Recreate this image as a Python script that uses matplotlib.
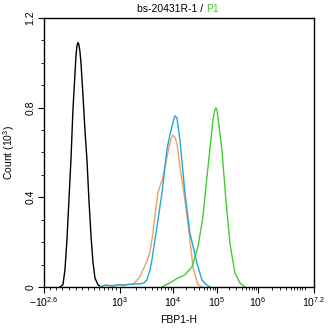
import numpy as np
import matplotlib
matplotlib.use('Agg')
import matplotlib.pyplot as plt

plt.rcParams['font.family'] = ['Liberation Sans', 'DejaVu Sans']
plt.rcParams['mathtext.fontset'] = 'custom'
plt.rcParams['mathtext.rm'] = 'Liberation Sans'
plt.rcParams['mathtext.it'] = 'Liberation Sans'

# x in display channels (0 = -10^2.6, 270 = 10^7.2), y = count in 10^3
black_x = [16, 19, 21, 23, 25, 27, 29, 31, 32, 33, 34, 35, 36, 37, 39, 41, 43, 45, 47, 49, 51, 54, 57]
black_y = [0.0, 0.01, 0.076, 0.21, 0.388, 0.567, 0.79, 0.95, 1.03, 1.075, 1.09, 1.08, 1.05, 1.0, 0.857, 0.701, 0.567, 0.388, 0.232, 0.112, 0.040, 0.01, 0.0]

orange_x = [55, 62, 70, 76, 80, 86, 89, 93, 96, 99, 103, 106, 109, 111, 114, 119, 124, 127, 129, 131, 133, 136, 141, 146, 149, 154, 158]
orange_y = [0.0, 0.008, 0.006, 0.01, 0.008, 0.013, 0.01, 0.031, 0.045, 0.076, 0.115, 0.156, 0.24, 0.317, 0.42, 0.49, 0.6, 0.66, 0.676, 0.668, 0.64, 0.536, 0.388, 0.21, 0.089, 0.01, 0.0]

blue_x = [56, 62, 68, 74, 80, 86, 92, 96, 100, 103, 106, 108, 113, 118, 123, 126, 128, 130, 131, 133, 136, 141, 146, 153, 158, 163, 166]
blue_y = [0.0, 0.008, 0.004, 0.01, 0.008, 0.012, 0.014, 0.013, 0.018, 0.031, 0.075, 0.12, 0.268, 0.417, 0.612, 0.68, 0.714, 0.75, 0.763, 0.755, 0.656, 0.42, 0.241, 0.107, 0.031, 0.008, 0.0]

green_x = [118, 126, 134, 141, 148, 154, 159, 163, 167, 169, 171, 172, 173, 174, 178, 182, 186, 191, 196, 201]
green_y = [0.0, 0.018, 0.04, 0.054, 0.089, 0.178, 0.312, 0.49, 0.656, 0.745, 0.79, 0.799, 0.79, 0.759, 0.612, 0.388, 0.196, 0.062, 0.018, 0.0]

major_pos = [0, 76, 129, 173, 214, 270]
major_lab = [r'$-10^{2.6}$', r'$10^{3}$', r'$10^{4}$', r'$10^{5}$', r'$10^{6}$', r'$10^{7.2}$']


def chan(v):
    # logicle-like mapping used only for minor tick marks
    v = np.asarray(v, dtype=float)
    low = 25 + 38.3 * np.arcsinh(v / 580.0)
    high = np.interp(np.log10(np.clip(v, 1, None)), [3, 4, 5, 6, 7.2], [76, 129, 173, 214, 270])
    return np.where(v < 1000, low, high)


minor_vals = [-300, -200, -100, 0, 100, 200, 300, 400, 500, 600, 700, 800, 900]
for dec in [3, 4, 5, 6]:
    minor_vals += [m * 10 ** dec for m in range(2, 10)]
minor_vals += [1e7]
minor_pos = chan(minor_vals)

fig = plt.figure(figsize=(3.28, 3.31), dpi=100)
ax = fig.add_axes([0.134, 0.133, 0.823, 0.813])

ax.plot(black_x, black_y, color='black', lw=1.0)
ax.plot(orange_x, orange_y, color='#f0a060', lw=1.0)
ax.plot(blue_x, blue_y, color='#1fa8d8', lw=1.0)
ax.plot(green_x, green_y, color='#44cc33', lw=1.0)

ax.set_xlim(0, 270)
ax.set_ylim(0, 1.2)
ax.set_xticks(major_pos)
ax.set_xticklabels(major_lab, fontsize=7.5)
ax.set_xticks(minor_pos, minor=True)
ax.set_yticks([0, 0.4, 0.8, 1.2])
ax.set_yticklabels(['0', '0.4', '0.8', '1.2'], fontsize=7.5, rotation=90, va='center')
ax.set_yticks(np.arange(0, 1.21, 0.1), minor=True)
ax.tick_params(which='major', length=4, width=0.8, direction='out', pad=2)
ax.tick_params(which='minor', length=2.5, width=0.6, direction='out')
for s in ax.spines.values():
    s.set_linewidth(1.0)

ax.set_xlabel('FBP1-H', fontsize=7.5, labelpad=4)
ax.set_ylabel(r'Count ($10^3$)', fontsize=7.5, labelpad=6)

fig.text(0.628, 0.972, 'bs-20431R-1 / ', ha='right', va='center', fontsize=7.5)
fig.text(0.628, 0.972, 'P1', ha='left', va='center', fontsize=7.5, color='#44cc33')

fig.savefig('out.png', dpi=100)
